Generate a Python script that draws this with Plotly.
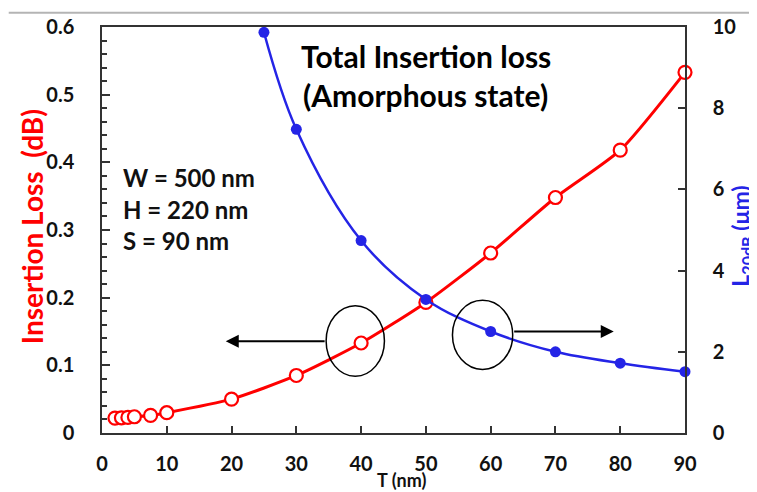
import plotly.graph_objects as go

# ---- data ----
t_loss = [2, 3, 4, 5, 7.5, 10, 20, 30, 40, 50, 60, 70, 80, 90]
insertion_loss_db = [0.022, 0.0225, 0.023, 0.024, 0.026, 0.030, 0.050, 0.085, 0.133, 0.193, 0.266, 0.348, 0.418, 0.533]

t_len = [25, 30, 40, 50, 60, 70, 80, 90]
l20db_um = [9.87, 7.48, 4.74, 3.29, 2.50, 2.00, 1.72, 1.51]

x_ticks = [0, 10, 20, 30, 40, 50, 60, 70, 80, 90]
y1_ticks = [0, 0.1, 0.2, 0.3, 0.4, 0.5, 0.6]
y1_labels = ["0", "0.1", "0.2", "0.3", "0.4", "0.5", "0.6"]
y2_ticks = [0, 2, 4, 6, 8, 10]

FONT = "Lato"
RED = "#ff0000"
BLUE = "#2424e6"

fig = go.Figure()
fig.add_trace(go.Scatter(
    x=t_loss, y=insertion_loss_db, mode="lines+markers",
    line=dict(color=RED, width=3, shape="spline", smoothing=0.6),
    marker=dict(symbol="circle", size=13, color="white", line=dict(color=RED, width=2.2)),
    yaxis="y", showlegend=False, cliponaxis=False,
))
fig.add_trace(go.Scatter(
    x=t_len, y=l20db_um, mode="lines+markers",
    line=dict(color=BLUE, width=2.5, shape="spline", smoothing=1.0),
    marker=dict(symbol="circle", size=11, color=BLUE),
    yaxis="y2", showlegend=False, cliponaxis=False,
))

tickfont = dict(family=FONT, size=20, color="#111111", weight="bold")
# page body has an 8px margin, so the figure is sized/offset to fit the 757x492 window
fig.update_layout(
    width=749, height=484,
    margin=dict(l=94, r=72, t=19, b=59, autoexpand=False),
    paper_bgcolor="white", plot_bgcolor="white",
    font=dict(family=FONT),
    xaxis=dict(
        range=[0, 90], tickvals=x_ticks, ticks="inside", ticklen=7, tickwidth=1.5,
        tickcolor="#333", showline=True, linecolor="#333", linewidth=1.5, mirror=True,
        showgrid=False, zeroline=False, tickfont=tickfont, ticklabelstandoff=12, automargin=False,
    ),
    yaxis=dict(
        range=[0, 0.6], tickvals=y1_ticks, ticktext=y1_labels,
        ticks="inside", ticklen=8, tickwidth=1.5, tickcolor="#333",
        minor=dict(dtick=0.02, ticks="inside", ticklen=5, tickwidth=1.5, tickcolor="#333", showgrid=False),
        showline=True, linecolor="#333", linewidth=1.5, showgrid=False, zeroline=False,
        tickfont=tickfont, ticklabelstandoff=22, automargin=False,
    ),
    yaxis2=dict(
        range=[0, 10], tickvals=y2_ticks, overlaying="y", side="right",
        ticks="inside", ticklen=7, tickwidth=1.5, tickcolor="#333",
        showline=True, linecolor="#333", linewidth=1.5, showgrid=False, zeroline=False,
        tickfont=tickfont, ticklabelstandoff=22, automargin=False,
    ),
)

# axis titles as annotations
fig.add_annotation(x=-0.12, xref="paper", y=0.507, yref="paper", text="Insertion Loss  (dB)",
                   textangle=-90, showarrow=False, xanchor="center", yanchor="middle",
                   font=dict(family=FONT, size=28, color=RED, weight="bold"))
fig.add_annotation(x=1.097, xref="paper", y=0.485, yref="paper", text="L<sub>20dB</sub> (μm)",
                   textangle=-90, showarrow=False, xanchor="center", yanchor="middle",
                   font=dict(family=FONT, size=23, color=BLUE, weight="bold"))
fig.add_annotation(x=0.513, xref="paper", y=-0.115, yref="paper", text="T (nm)", showarrow=False,
                   font=dict(family=FONT, size=18, color="#111", weight="bold"), xanchor="center", yanchor="middle")

# figure texts
fig.add_annotation(x=50, y=0.557, xref="x", yref="y", text="Total Insertion loss", showarrow=False,
                   font=dict(family=FONT, size=30, color="#000", weight="bold"), xanchor="center", yanchor="middle")
fig.add_annotation(x=50, y=0.4995, xref="x", yref="y", text="(Amorphous state)", showarrow=False,
                   font=dict(family=FONT, size=30, color="#000", weight="bold"), xanchor="center", yanchor="middle")
for i, txt in enumerate(["W = 500 nm", "H = 220 nm", "S = 90 nm"]):
    fig.add_annotation(x=3, y=0.378 - i * 0.047, xref="x", yref="y", text=txt, showarrow=False,
                       font=dict(family=FONT, size=24, color="#111", weight="bold"), xanchor="left", yanchor="middle")

# ellipses
fig.add_shape(type="circle", xref="x", yref="y", x0=34.6, x1=43.6, y0=0.084, y1=0.188,
              line=dict(color="black", width=1.5))
fig.add_shape(type="circle", xref="x", yref="y", x0=54.1, x1=63.4, y0=0.094, y1=0.196,
              line=dict(color="black", width=1.5))
# arrows
fig.add_annotation(x=19.1, y=0.1355, ax=34.6, ay=0.1355, xref="x", yref="y", axref="x", ayref="y",
                   text="", showarrow=True, arrowhead=2, arrowsize=1.3, arrowwidth=2, arrowcolor="black")
fig.add_annotation(x=79, y=0.150, ax=63.4, ay=0.150, xref="x", yref="y", axref="x", ayref="y",
                   text="", showarrow=True, arrowhead=2, arrowsize=1.3, arrowwidth=2, arrowcolor="black")

# thin gray line at top of image
fig.add_shape(type="line", xref="paper", yref="paper", x0=-0.16, x1=1.12, y0=1.035, y1=1.035,
              line=dict(color="#b4b4b4", width=2), layer="above")

fig.write_html("out.html")
